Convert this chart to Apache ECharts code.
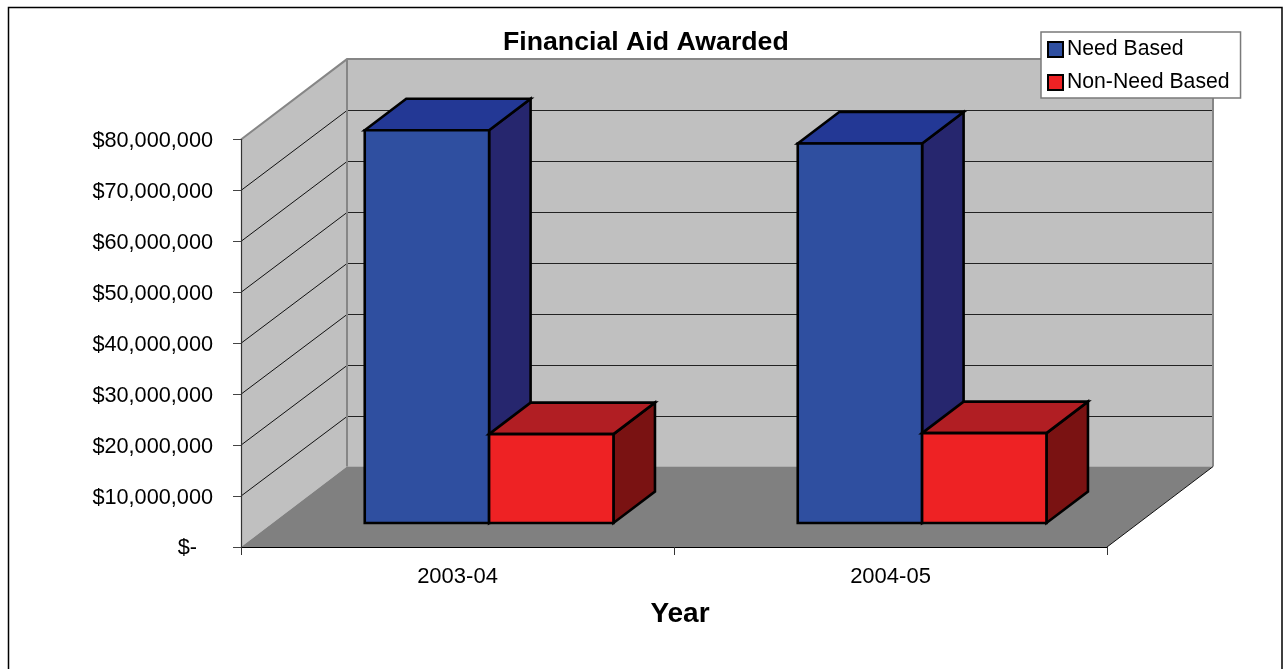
<!DOCTYPE html>
<html>
<head>
<meta charset="utf-8">
<style>html,body{margin:0;padding:0;background:#fff;overflow:hidden}#c{width:1283px;height:669px}</style>
<script src="https://cdn.jsdelivr.net/npm/echarts@6/dist/echarts.min.js"></script>
</head>
<body>
<div id="c"></div>
<script>
var categories = ['2003-04', '2004-05'];
var needBased = [77100000, 74500000];
var nonNeedBased = [17450000, 17650000];
var yTicks = [0, 10000000, 20000000, 30000000, 40000000, 50000000, 60000000, 70000000, 80000000];

var FONT = '"Liberation Sans", Arial, sans-serif';
var WALL_DX = 106, WALL_DY = -80.4;      // chart-box depth
var BAR_DX = 41.5, BAR_DY = -31.5;       // bar depth
var BAR_OFF_X = 31.6, BAR_OFF_Y = -24;   // bars sit part way into the floor
var BAR_FRAC = 0.2872;                   // bar width / category band

function poly(points, fill, stroke, lw, z2) {
  return { type: 'polygon', z2: z2 || 0, shape: { points: points },
    style: { fill: fill, stroke: stroke || null, lineWidth: lw || 0, lineJoin: 'miter' } };
}
function line(a, b, stroke, lw, z2) {
  return { type: 'line', z2: z2 || 0, shape: { x1: a[0], y1: a[1], x2: b[0], y2: b[1] },
    style: { stroke: stroke, lineWidth: lw } };
}
function edges(api) {
  var band = api.size([1, 0])[0];
  return { band: band,
    left: api.coord([0, 0])[0] - band / 2,
    right: api.coord([categories.length - 1, 0])[0] + band / 2 };
}
function renderWalls(params, api) {
  var e = edges(api);
  var y0 = api.coord([0, 0])[1], y1 = api.coord([0, 80000000])[1];
  var L = e.left, R = e.right, X = WALL_DX, Y = WALL_DY;
  return { type: 'group', children: [
    poly([[L, y1], [L + X, y1 + Y], [L + X, y0 + Y], [L, y0]], '#C0C0C0'),
    poly([[L + X, y1 + Y], [R + X, y1 + Y], [R + X, y0 + Y], [L + X, y0 + Y]], '#C0C0C0'),
    poly([[L, y0], [R, y0], [R + X, y0 + Y], [L + X, y0 + Y]], '#808080')
  ]};
}
function renderGrid(params, api) {
  var e = edges(api);
  var v = api.value(0);
  var y = api.coord([0, v])[1];
  var L = e.left, R = e.right, X = WALL_DX, Y = WALL_DY;
  if (v === 0 || v === 80000000) return { type: 'group', children: [] };
  var backY = Math.round(y + Y) + 0.5;   // keep the hairline on one pixel row
  return { type: 'group', children: [
    line([L, y], [L + X, backY], '#111', 1),
    line([L + X, backY], [R + X, backY], '#222', 1)
  ]};
}
function renderFrame(params, api) {
  var e = edges(api);
  var y0 = api.coord([0, 0])[1], y1 = api.coord([0, 80000000])[1];
  var L = e.left, R = e.right, X = WALL_DX, Y = WALL_DY;
  return { type: 'group', children: [
    { type: 'polyline', shape: { points: [[L, y1], [L + X, y1 + Y], [R + X, y1 + Y], [R + X, y0 + Y]] },
      style: { fill: null, stroke: '#868686', lineWidth: 2 } },
    line([L + X, y1 + Y], [L + X, y0 + Y], '#868686', 2),
    line([R, y0], [R + X, y0 + Y], '#111', 1)
  ]};
}
function barRenderer(colors, side) {
  return function (params, api) {
    var cat = api.value(0), val = api.value(1);
    var w = api.size([1, 0])[0] * BAR_FRAC;
    var c0 = api.coord([cat, 0]), c1 = api.coord([cat, val]);
    var cx = c0[0] + BAR_OFF_X;
    var xa = side < 0 ? cx - w : cx, xb = xa + w;
    var yb = c0[1] + BAR_OFF_Y, yt = c1[1] + BAR_OFF_Y;
    var dx = BAR_DX, dy = BAR_DY;
    var k = '#000', lw = 2.6;
    return { type: 'group', children: [
      poly([[xb, yt], [xb + dx, yt + dy], [xb + dx, yb + dy], [xb, yb]], colors.side, k, lw),
      poly([[xa, yt], [xa + dx, yt + dy], [xb + dx, yt + dy], [xb, yt]], colors.top, k, lw),
      poly([[xa, yt], [xb, yt], [xb, yb], [xa, yb]], colors.front, k, lw)
    ]};
  };
}
var blue = { front: '#2F4FA0', top: '#233895', side: '#26266E' };
var red = { front: '#EE2224', top: '#B11E23', side: '#7A1212' };

var chart = echarts.init(document.getElementById('c'), null, { renderer: 'canvas' });
chart.setOption({
  animation: false,
  backgroundColor: '#fff',
  title: {
    text: 'Financial Aid Awarded', left: 503, top: 29, padding: 0,
    textStyle: { fontFamily: FONT, fontWeight: 'bold', fontSize: 26.7, color: '#000' }
  },
  legend: {
    left: 1041, top: 32, orient: 'vertical', padding: [7, 11, 5, 6], itemGap: 12,
    backgroundColor: '#fff', borderColor: '#7a7a7a', borderWidth: 1.5,
    itemWidth: 15, itemHeight: 15, icon: 'rect', selectedMode: false,
    itemStyle: { borderColor: '#000', borderWidth: 2 },
    textStyle: { fontFamily: FONT, fontSize: 21.2, color: '#000', padding: [0, 0, 0, -1] },
    data: ['Need Based', 'Non-Need Based']
  },
  grid: { left: 241, right: 176, top: 139.5, height: 407.5 },
  xAxis: {
    type: 'category', data: categories, z: 5,
    name: 'Year', nameLocation: 'middle', nameGap: 53,
    nameTextStyle: { fontFamily: FONT, fontWeight: 'bold', fontSize: 28, color: '#000', padding: [0, 0, 0, 12] },
    axisLine: { lineStyle: { color: '#000', width: 1.2 } },
    axisTick: { show: true, length: 8, lineStyle: { color: '#333', width: 1 } },
    axisLabel: { fontFamily: FONT, fontSize: 22, color: '#000', margin: 19 },
    splitLine: { show: false }
  },
  yAxis: {
    type: 'value', min: 0, max: 80000000, interval: 10000000, z: 5,
    axisLine: { show: true, lineStyle: { color: '#333', width: 1.2 } },
    axisTick: { show: true, length: 8, lineStyle: { color: '#444', width: 1 } },
    axisLabel: {
      fontFamily: FONT, fontSize: 21.7, color: '#000', margin: 28, padding: [3, 0, 0, 0],
      formatter: function (v) {
        if (v === 0) return '{z|$-}';
        return '$' + String(v).replace(/\B(?=(\d{3})+$)/g, ',');
      },
      rich: { z: { fontFamily: FONT, fontSize: 21.7, color: '#000', padding: [0, 16, 0, 0] } }
    },
    splitLine: { show: false }
  },
  graphic: [{
    type: 'rect', silent: true, z: 100,
    shape: { x: 8.5, y: 7.5, width: 1273.5, height: 720 },
    style: { fill: null, stroke: '#000', lineWidth: 1.5 }
  }],
  series: [
    { type: 'custom', name: 'walls', z: 1, silent: true, clip: false, renderItem: renderWalls, data: [[0]], encode: { x: -1, y: -1 } },
    { type: 'custom', name: 'grid', z: 1.1, silent: true, clip: false, renderItem: renderGrid,
      data: yTicks.map(function (v) { return [v]; }), encode: { x: -1, y: -1 } },
    { type: 'custom', name: 'frame', z: 1.2, silent: true, clip: false, renderItem: renderFrame, data: [[0]], encode: { x: -1, y: -1 } },
    { type: 'custom', name: 'Need Based', z: 2, clip: false, itemStyle: { color: blue.front }, renderItem: barRenderer(blue, -1),
      encode: { x: 0, y: 1 }, data: needBased.map(function (v, i) { return [i, v]; }) },
    { type: 'custom', name: 'Non-Need Based', z: 3, clip: false, itemStyle: { color: red.front }, renderItem: barRenderer(red, 1),
      encode: { x: 0, y: 1 }, data: nonNeedBased.map(function (v, i) { return [i, v]; }) }
  ]
});
</script>
</body>
</html>
